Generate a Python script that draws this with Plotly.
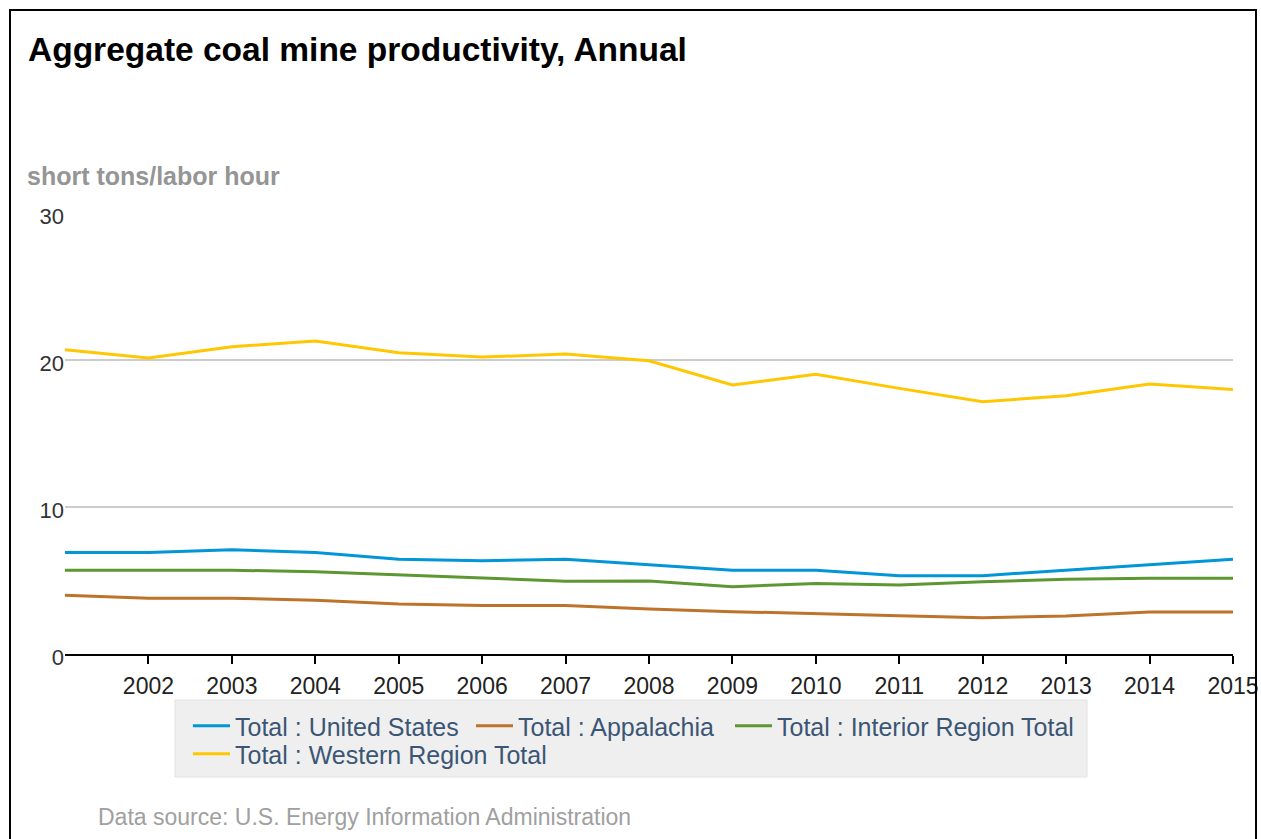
import plotly.graph_objects as go

years = list(range(2001, 2016))
united_states = [6.9, 6.9, 7.1, 6.9, 6.45, 6.35, 6.45, 6.05, 5.7, 5.7, 5.33, 5.33, 5.7, 6.1, 6.44]
appalachia = [4.0, 3.8, 3.8, 3.65, 3.4, 3.3, 3.3, 3.06, 2.88, 2.77, 2.61, 2.47, 2.59, 2.86, 2.86]
interior = [5.7, 5.7, 5.7, 5.6, 5.4, 5.2, 4.95, 4.97, 4.58, 4.8, 4.7, 4.92, 5.08, 5.15, 5.15]
western = [20.7, 20.13, 20.9, 21.3, 20.5, 20.2, 20.4, 19.95, 18.3, 19.03, 18.07, 17.16, 17.57, 18.37, 18.0]

x_ticks = list(range(2002, 2016))
y_ticks = [0, 10, 20, 30]

series = [
    ("Total : United States", united_states, "#0096D7", "legend"),
    ("Total : Appalachia", appalachia, "#BD732A", "legend2"),
    ("Total : Interior Region Total", interior, "#5D9732", "legend3"),
    ("Total : Western Region Total", western, "#FFC702", "legend4"),
]

W, H = 1261, 839
L, R, T, B = 65, 28, 213, 185
PW, PH = W - L - R, H - T - B


def px(xp):
    return (xp - L) / PW


def py(yp):
    return (H - B - yp) / PH


def cx(xp):
    return xp / W


def cy(yp):
    return 1 - yp / H


fig = go.Figure()
for name, vals, color, lg in series:
    fig.add_trace(go.Scatter(
        x=years, y=vals, mode="lines", name=name, showlegend=True,
        line=dict(color=color, width=3), legend=lg,
    ))

FONT = "Liberation Sans, Arial, sans-serif"


def legend_at(xp, yp):
    return dict(
        visible=True,
        orientation="v", bgcolor="rgba(0,0,0,0)", borderwidth=0,
        font=dict(family=FONT, size=25, color="#3b5674"),
        xref="container", yref="container",
        x=cx(xp), y=cy(yp), xanchor="left", yanchor="top",
        itemwidth=37, tracegroupgap=0,
    )


fig.update_layout(
    width=W, height=H,
    showlegend=True,
    margin=dict(l=L, r=R, t=T, b=B, autoexpand=False),
    paper_bgcolor="white", plot_bgcolor="white",
    font=dict(family=FONT),
    title=dict(
        text="<b>Aggregate coal mine productivity, Annual</b>",
        x=cx(28), xref="container", xanchor="left",
        y=cy(49), yref="container", yanchor="middle",
        font=dict(family=FONT, size=33.5, color="#000000"),
    ),
    xaxis=dict(
        range=[2001, 2015], tickvals=x_ticks, ticktext=[str(v) for v in x_ticks],
        showgrid=False, zeroline=False, automargin=False,
        showline=True, linecolor="#000000", linewidth=2,
        ticks="outside", ticklen=8, tickwidth=2, tickcolor="#000000",
        tickfont=dict(family=FONT, size=23, color="#222222"),
        ticklabelstandoff=2,
    ),
    yaxis=dict(
        range=[0, 30], tickvals=y_ticks, showgrid=True, gridcolor="#cccccc", gridwidth=1.5,
        zeroline=False, showline=False, ticks="", automargin=False,
        tickfont=dict(family=FONT, size=22, color="#333333"),
        ticklabelshift=3,
    ),
    legend=legend_at(188, 703),
    legend2=legend_at(471, 703),
    legend3=legend_at(730, 703),
    legend4=legend_at(188, 731),
    shapes=[
        dict(type="rect", xref="paper", yref="paper", layer="below",
             x0=px(175), x1=px(1087), y0=py(777), y1=py(700),
             fillcolor="#efefef", line=dict(color="#e2e2e2", width=1)),
        dict(type="rect", xref="paper", yref="paper", layer="above",
             x0=px(10), x1=px(1256), y0=py(850), y1=py(10),
             fillcolor="rgba(0,0,0,0)", line=dict(color="#000000", width=2)),
    ],
    annotations=[
        dict(text="<b>short tons/labor hour</b>", xref="paper", yref="paper",
             x=px(25), y=py(176), xanchor="left", yanchor="middle", showarrow=False,
             font=dict(family=FONT, size=25, color="#959595")),
        dict(text="Data source: U.S. Energy Information Administration", xref="paper", yref="paper",
             x=px(96), y=py(817), xanchor="left", yanchor="middle", showarrow=False,
             font=dict(family=FONT, size=23, color="#a0a0a0")),
    ],
)

fig.write_html("out.html")
